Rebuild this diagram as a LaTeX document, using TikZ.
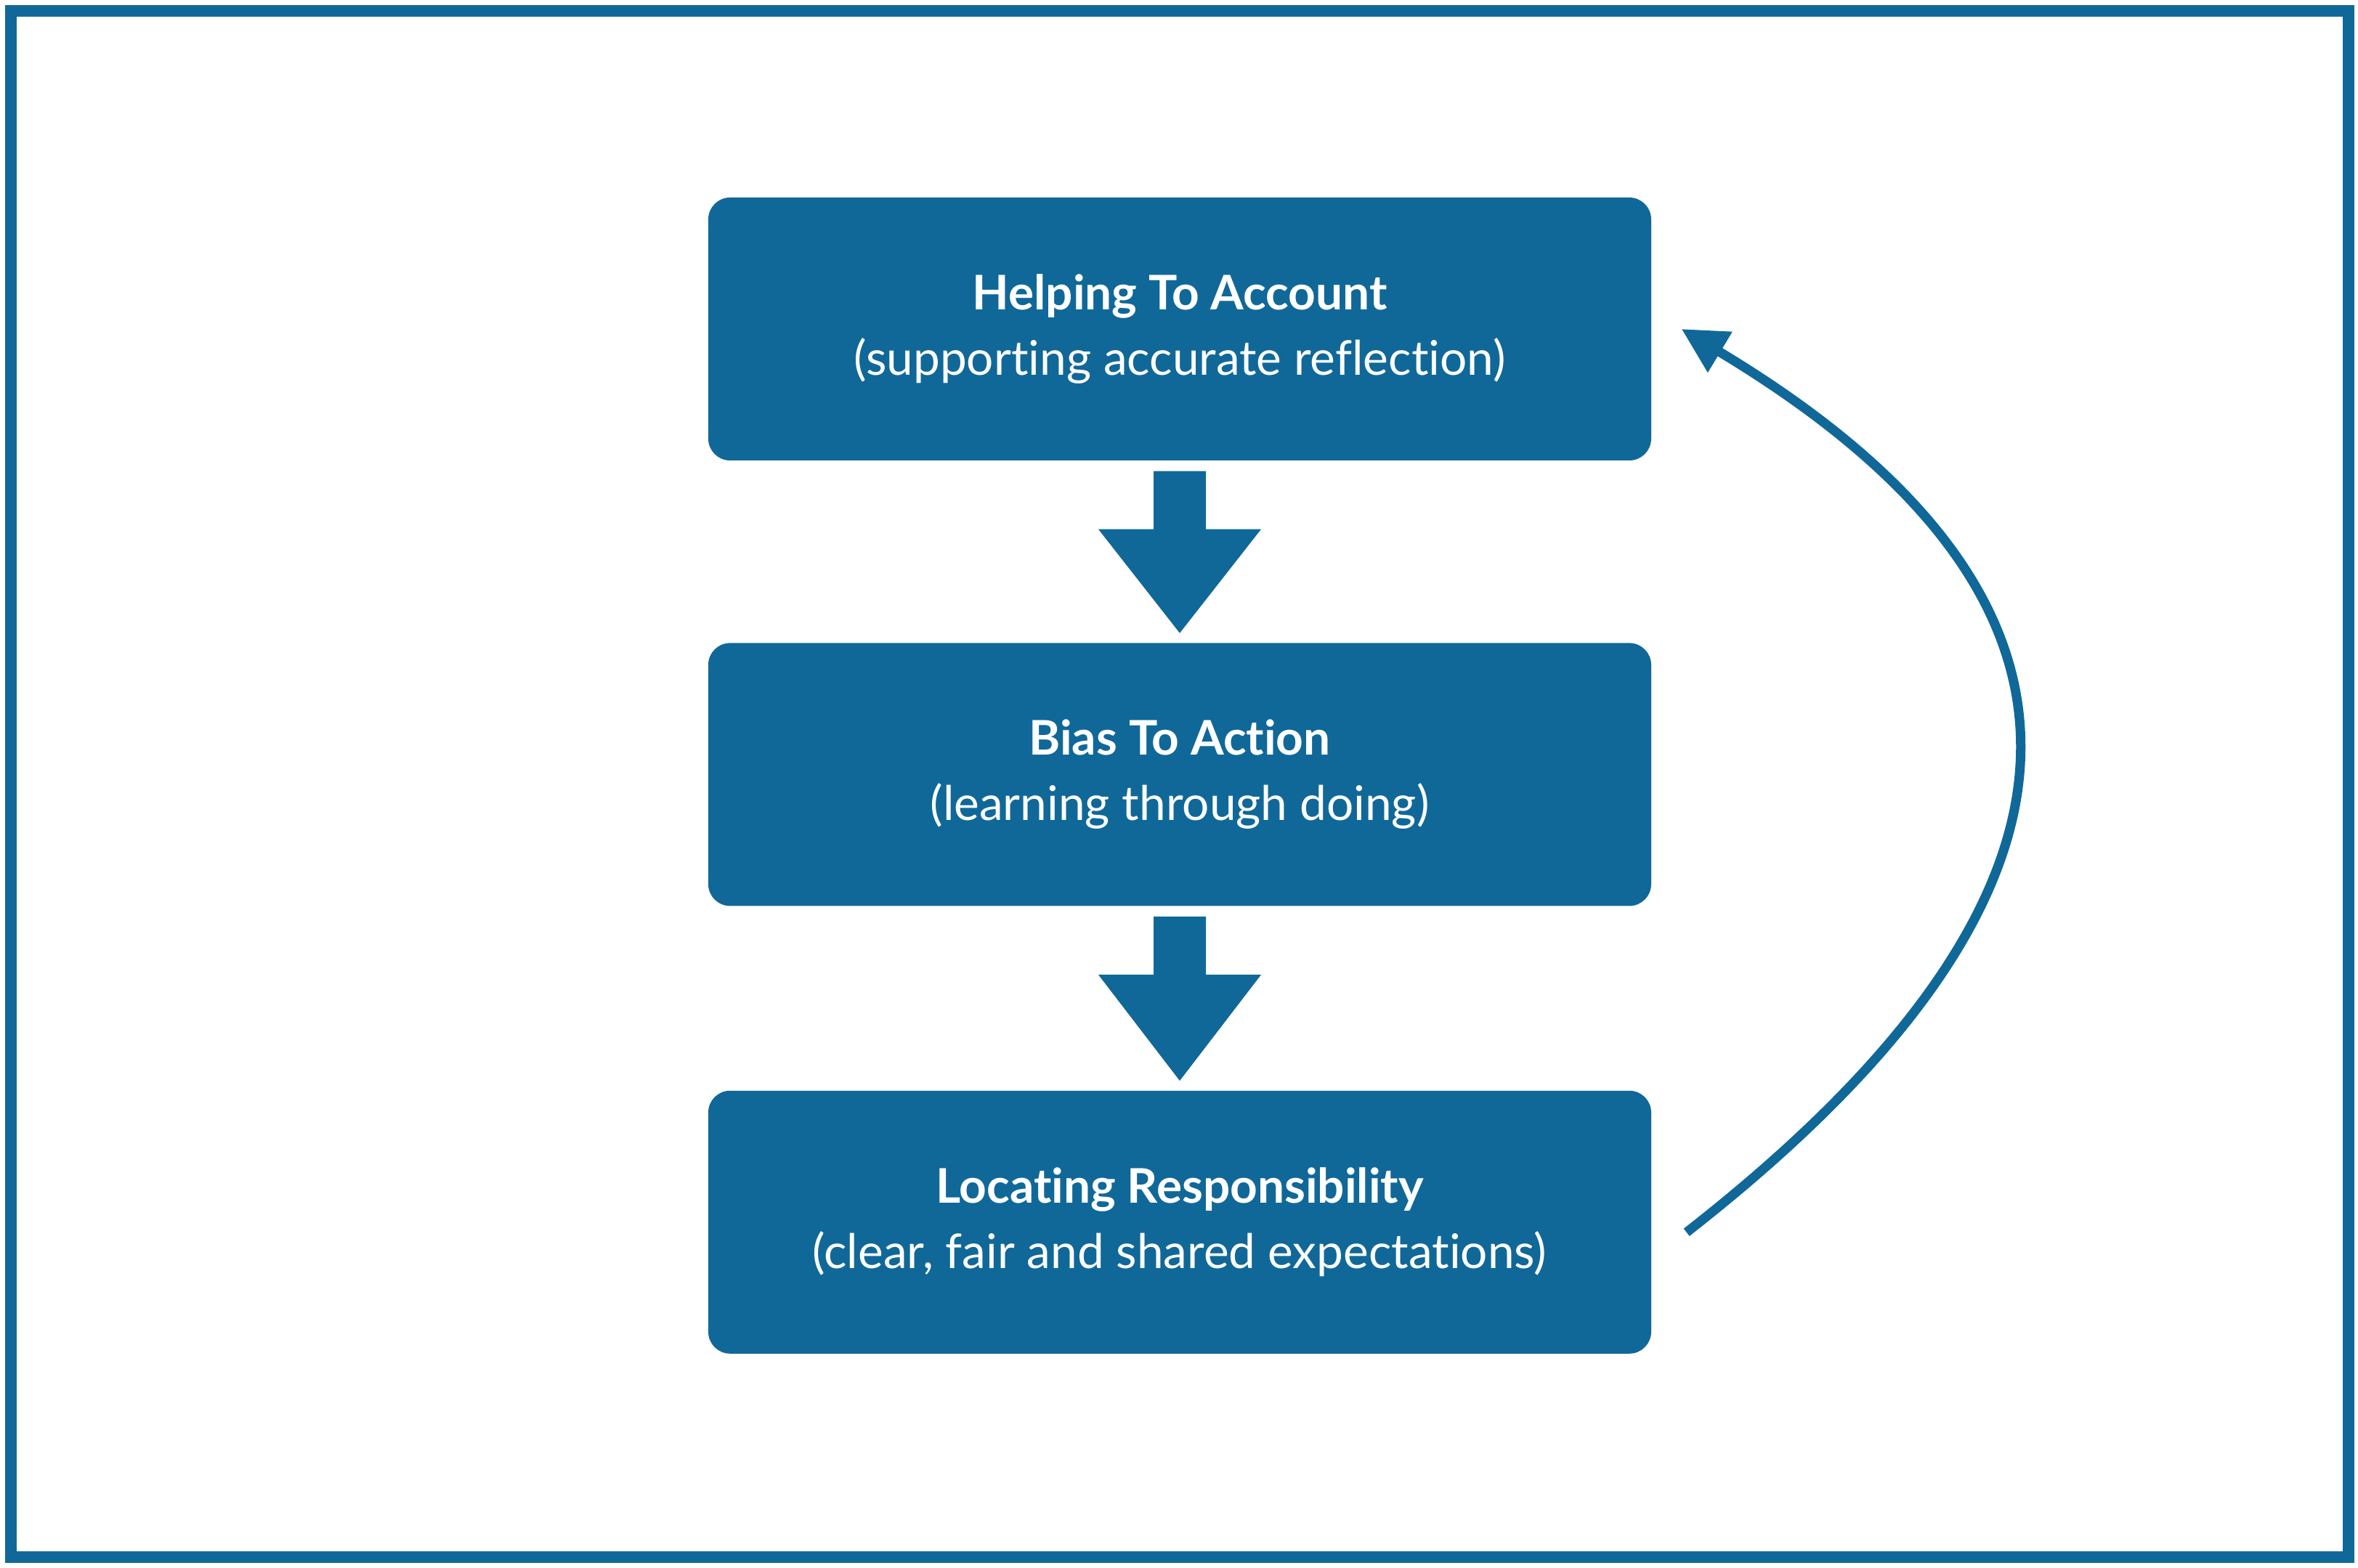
\documentclass[tikz,border=0pt]{standalone}
\usepackage{fontspec}
\setmainfont{Lato}[Ligatures=NoCommon]
\usetikzlibrary{positioning,calc,arrows.meta}
\definecolor{flowblue}{RGB}{16,104,153}

\begin{document}
\begin{tikzpicture}[node distance=2.5cm,
                    box node/.style={rectangle,rounded corners=0.3cm,fill=flowblue,text=white,
                      minimum width=12.98cm,minimum height=3.62cm,align=center,
                      font=\fontsize{18.7}{25.6}\selectfont},
                    loop arrow/.style={draw=flowblue,line width=0.13cm,-{Triangle[length=0.62cm,width=0.62cm]}}]

  \useasboundingbox (0,0) rectangle (32.46,21.58);
  \draw[flowblue,line width=0.16cm] (0.15,0.14) rectangle (32.33,21.43);

  \node[box node] (help) at (16.24,17.05) {\textbf{Helping To Account}\\(supporting accurate reflection)};
  \node[box node] (bias) [below=of help] {\textbf{Bias To Action}\\(learning through doing)};
  \node[box node] (locate) [below=2.53cm of bias] {\textbf{Locating Responsibility}\\(clear, fair and shared expectations)};

  % block arrows between the steps
  \foreach \a/\b in {help/bias,bias/locate}
    \fill[flowblue] ($(\a.south)+(-0.36,-0.14)$) -- ++(0.72,0) -- ++(0,-0.8) -- ++(0.76,0)
      -- ($(\b.north)+(0,0.13)$) -- ($(\a.south)+(-1.12,-0.94)$) -- ++(0.76,0) -- cycle;

  % feedback loop
  \draw[loop arrow] ([xshift=0.48cm,yshift=-0.14cm]locate.east)
    to[out=38,in=-31,looseness=1.52] ([xshift=0.41cm]help.east);
\end{tikzpicture}
\end{document}
